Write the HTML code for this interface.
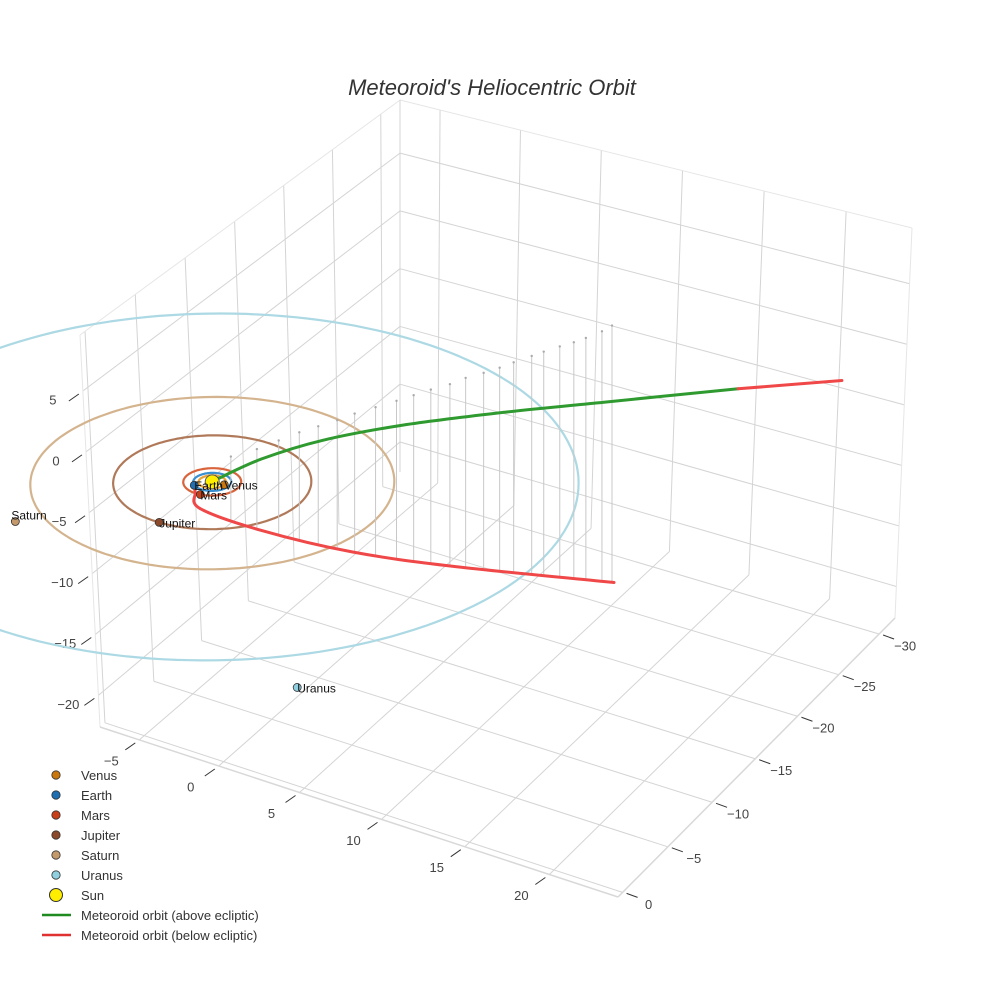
<!DOCTYPE html>
<html>
<head>
<meta charset="utf-8">
<style>
  html,body{margin:0;padding:0;background:#fff;}
  svg{display:block;font-family:"Liberation Sans",sans-serif;}
</style>
</head>
<body>
<svg id="chart" width="984" height="984" viewBox="0 0 984 984">
  <rect x="0" y="0" width="984" height="984" fill="#fff"/>
  <g id="grid"></g>
  <g id="axes"></g>
  <g id="orbits"></g>
  <g id="drops"></g>
  <g id="meteor"></g>
  <g id="planets"></g>
  <text x="492" y="95" text-anchor="middle" font-size="22" font-style="italic" fill="#333">Meteoroid's Heliocentric Orbit</text>
  <g id="legend"></g>
</svg>
<script>
// ---------- data ----------
const xTicks = [-5, 0, 5, 10, 15, 20];
const yTicks = [0, -5, -10, -15, -20, -25, -30];
const zTicks = [-20, -15, -10, -5, 0, 5];

const planetNames = ["Venus", "Earth", "Mars", "Jupiter", "Saturn", "Uranus"];
const planetX = [0.71, -0.62, 0.19, -0.06, -6.6, 15.2];
const planetY = [-0.05, 0.79, 1.50, 5.2, 8.9, 16.6];
const planetZ = [0, 0, 0, 0, 0, 0];
const orbitRadius = [0.72, 1.0, 1.52, 5.2, 9.55, 19.2];
const planetColors = ["#c8780f", "#1f6fb2", "#c8401a", "#8b4a2b", "#c49a6c", "#8fcfe0"];
const orbitColors = ["#e8a33a", "#3a8fd0", "#d9643c", "#b07a5a", "#d4b48e", "#acd9e4"];

const greenX = [0.04, 0.92, 2.61, 5.41, 9.26, 13.3, 18.7];
const greenY = [-0.28, -3.49, -6.88, -10.5, -14.4, -18.1, -23.0];
const greenZ = [0, 0, 0, 0, 0, 0, 0];

const redUpperX = [18.7, 23.0];
const redUpperY = [-23.0, -26.6];
const redUpperZ = [0, 0];

const redLowerX = [-0.62, -0.16, 0.97, 4.97, 10.3, 15.7, 23.6];
const redLowerY = [0.79, 1.44, 2.82, 3.26, 2.88, 1.55, -1.1];
const redLowerZ = [0, 0, 0, 0, 0, 0, 0];

const dropX = [3.0,4.7,6.0,7.2,8.3,9.4,10.4,11.5,12.6,13.5,14.4,15.4,16.2,17.1,17.9,18.6,19.5,20.1,20.9,21.6,22.2,23.0,23.5];
const dropZ = [5.0,6.3,7.4,8.4,9.2,10.0,10.8,11.5,12.2,12.8,13.4,14.0,14.6,15.1,15.6,16.1,16.7,17.1,17.6,18.0,18.4,19.0,19.5];

// ---------- projection ----------
const XMIN=-7.5, XMAX=24, YMIN=-32, YMAX=0.5, ZMIN=-22.6, ZMAX=9.6;
function sq2quad(p){
  const [x0,y0]=p[0],[x1,y1]=p[1],[x2,y2]=p[2],[x3,y3]=p[3];
  const dx1=x1-x2, dx2=x3-x2, dx3=x0-x1+x2-x3;
  const dy1=y1-y2, dy2=y3-y2, dy3=y0-y1+y2-y3;
  const det=dx1*dy2-dx2*dy1;
  const g=(dx3*dy2-dx2*dy3)/det, h=(dx1*dy3-dx3*dy1)/det;
  const a=x1-x0+g*x1, b=x3-x0+h*x3, c=x0;
  const d=y1-y0+g*y1, e=y3-y0+h*y3, f=y0;
  return (u,v)=>{const den=g*u+h*v+1;return [(a*u+b*v+c)/den,(d*u+e*v+f)/den];};
}
const Hb = sq2quad([[400,472],[895,618],[618,897],[100,727]]);
const Ht = sq2quad([[400,100],[912,228],[600,470],[80,335]]);
function proj(x,y,z){
  const u=(x-XMIN)/(XMAX-XMIN), v=(y-YMIN)/(YMAX-YMIN), w=(z-ZMIN)/(ZMAX-ZMIN);
  const b=Hb(u,v), t=Ht(u,v);
  return [b[0]+w*(t[0]-b[0]), b[1]+w*(t[1]-b[1])];
}
const NS="http://www.w3.org/2000/svg";
function mk(tag, attrs, parent){
  const el=document.createElementNS(NS,tag);
  for(const k in attrs) el.setAttribute(k, attrs[k]);
  parent.appendChild(el); return el;
}
function line3(p,q,stroke,sw,parent,name){
  const a=proj(...p), b=proj(...q);
  const el=mk('line',{x1:a[0],y1:a[1],x2:b[0],y2:b[1],stroke:stroke,'stroke-width':sw},parent);
  
  
  return el;
}
function path3(xs,ys,zs,stroke,sw,parent,name,smooth){
  const pts=xs.map((x,i)=>proj(x,ys[i],zs[i]));
  let d='M'+pts[0][0].toFixed(1)+' '+pts[0][1].toFixed(1);
  for(let i=0;i<pts.length-1;i++){
    if(smooth){
      const p0=pts[Math.max(0,i-1)],p1=pts[i],p2=pts[i+1],p3=pts[Math.min(pts.length-1,i+2)];
      const c1=[p1[0]+(p2[0]-p0[0])/6,p1[1]+(p2[1]-p0[1])/6];
      const c2=[p2[0]-(p3[0]-p1[0])/6,p2[1]-(p3[1]-p1[1])/6];
      d+='C'+c1[0].toFixed(1)+' '+c1[1].toFixed(1)+' '+c2[0].toFixed(1)+' '+c2[1].toFixed(1)+' '+p2[0].toFixed(1)+' '+p2[1].toFixed(1);
    } else d+='L'+pts[i+1][0].toFixed(1)+' '+pts[i+1][1].toFixed(1);
  }
  const el=mk('path',{d:d,fill:'none',stroke:stroke,'stroke-width':sw,'stroke-linejoin':'round','stroke-linecap':'round'},parent);
  
  
  return el;
}

// ---------- grid ----------
const grid=document.getElementById('grid');
const GC='#d4d4d4';
yTicks.forEach(y=>line3([XMIN,y,ZMIN],[XMIN,y,ZMAX],GC,1,grid,'left-wall-gridline'));
zTicks.forEach(z=>line3([XMIN,YMIN,z],[XMIN,YMAX,z],GC,1,grid,'left-wall-gridline'));
xTicks.forEach(x=>line3([x,YMIN,ZMIN],[x,YMIN,ZMAX],GC,1,grid,'back-wall-gridline'));
zTicks.forEach(z=>line3([XMIN,YMIN,z],[XMAX,YMIN,z],GC,1,grid,'back-wall-gridline'));
xTicks.forEach(x=>line3([x,YMIN,ZMIN],[x,YMAX,ZMIN],GC,1,grid,'floor-gridline'));
yTicks.forEach(y=>line3([XMIN,y,ZMIN],[XMAX,y,ZMIN],GC,1,grid,'floor-gridline'));
const EC='#e6e6e6';
line3([XMIN,YMIN,ZMAX],[XMIN,YMAX,ZMAX],EC,1,grid,'box-edge');
line3([XMIN,YMIN,ZMAX],[XMAX,YMIN,ZMAX],EC,1,grid,'box-edge');
line3([XMIN,YMIN,ZMIN],[XMIN,YMIN,ZMAX],GC,1,grid,'box-edge');
line3([XMAX,YMIN,ZMIN],[XMAX,YMIN,ZMAX],EC,1,grid,'box-edge');
line3([XMIN,YMAX,ZMIN],[XMIN,YMAX,ZMAX],EC,1,grid,'box-edge');
line3([XMIN,YMAX,ZMIN],[XMAX,YMAX,ZMIN],'#d8d8d8',1.5,grid,'box-edge');
line3([XMAX,YMIN,ZMIN],[XMAX,YMAX,ZMIN],'#d8d8d8',1.5,grid,'box-edge');

// ---------- axes ticks / labels ----------
const axes=document.getElementById('axes');
function tickLabel(x,y,txt,name){
  const t=mk('text',{x:x,y:y,'text-anchor':'middle','dominant-baseline':'middle','font-size':13,fill:'#444'},axes);
  t.textContent=txt;
  
  
}
function fmt(v){return v<0?'\u2212'+Math.abs(v):String(v);}
xTicks.forEach(x=>{
  const p=proj(x,YMAX,ZMIN);
  const l=mk('line',{x1:p[0]-4,y1:p[1]+3,x2:p[0]-14,y2:p[1]+10,stroke:'#333','stroke-width':1},axes);
  
  
  tickLabel(p[0]-28,p[1]+22,fmt(x),'x-tick-label');
});
yTicks.forEach(y=>{
  const p=proj(XMAX,y,ZMIN);
  const l=mk('line',{x1:p[0]+4,y1:p[1]+1,x2:p[0]+15,y2:p[1]+5,stroke:'#333','stroke-width':1},axes);
  
  
  tickLabel(p[0]+26,p[1]+13,fmt(y),'y-tick-label');
});
zTicks.forEach(z=>{
  const p=proj(XMIN,YMAX,z);
  const l=mk('line',{x1:p[0]-4,y1:p[1]+3,x2:p[0]-14,y2:p[1]+10,stroke:'#333','stroke-width':1},axes);
  
  
  tickLabel(p[0]-30,p[1]+10,fmt(z),'z-tick-label');
});

// ---------- orbits ----------
const orbits=document.getElementById('orbits');
for(let i=orbitRadius.length-1;i>=0;i--){
  const xs=[],ys=[],zs=[];
  for(let k=0;k<=180;k++){const a=k/180*2*Math.PI;xs.push(orbitRadius[i]*Math.cos(a));ys.push(orbitRadius[i]*Math.sin(a));zs.push(0);}
  path3(xs,ys,zs,orbitColors[i],2.2,orbits,planetNames[i].toLowerCase()+'-orbit',false);
}

// ---------- drop lines ----------
const drops=document.getElementById('drops');
function interpY(x){
  for(let i=0;i<redLowerX.length-1;i++){
    if(x>=redLowerX[i]&&x<=redLowerX[i+1]){const t=(x-redLowerX[i])/(redLowerX[i+1]-redLowerX[i]);return redLowerY[i]+t*(redLowerY[i+1]-redLowerY[i]);}
  }
  return redLowerY[redLowerY.length-1];
}
dropX.forEach((x,i)=>{
  const y=interpY(x);
  const b=proj(x,y,0), t=proj(x,y,dropZ[i]);
  const l=mk('line',{x1:b[0],y1:b[1],x2:b[0],y2:t[1],stroke:'#c8c8c8','stroke-width':1},drops);
  
  
  const c=mk('circle',{cx:b[0],cy:t[1],r:1.2,fill:'#aaa'},drops);
  
  
});

// ---------- meteoroid ----------
const meteor=document.getElementById('meteor');
path3(redLowerX,redLowerY,redLowerZ,'#f04848',3,meteor,'meteoroid-below-ecliptic',true);
path3(greenX,greenY,greenZ,'#2f9a2f',3,meteor,'meteoroid-above-ecliptic',true);
path3(redUpperX,redUpperY,redUpperZ,'#f04848',3,meteor,'meteoroid-below-ecliptic-far',true);

// ---------- planets ----------
const planets=document.getElementById('planets');
const sp=proj(0,0,0);
const sun=mk('circle',{cx:sp[0],cy:sp[1],r:7,fill:'#ffee00',stroke:'#555','stroke-width':1},planets);


planetNames.forEach((n,i)=>{
  const p=proj(planetX[i],planetY[i],planetZ[i]);
  const c=mk('circle',{cx:p[0],cy:p[1],r:4,fill:planetColors[i],stroke:'#333','stroke-width':0.8},planets);
  
  
  const t=mk('text',{x:p[0]+(n==='Saturn'?-4:0),y:p[1]+(n==='Saturn'?-2:5),'font-size':12,fill:'#111'},planets);
  t.textContent=n;
  
  
});

// ---------- legend ----------
const legend=document.getElementById('legend');
const legendNames=["Venus","Earth","Mars","Jupiter","Saturn","Uranus","Sun","Meteoroid orbit (above ecliptic)","Meteoroid orbit (below ecliptic)"];
legendNames.forEach((n,i)=>{
  const y=775+i*20;
  if(i<6){
    const c=mk('circle',{cx:56,cy:y,r:4.2,fill:planetColors[i],stroke:'#333','stroke-width':0.8},legend);
    
    
  } else if(i===6){
    const c=mk('circle',{cx:56,cy:y,r:6.5,fill:'#ffee00',stroke:'#333','stroke-width':1},legend);
    
    
  } else {
    const l=mk('line',{x1:42,y1:y,x2:71,y2:y,stroke:i===7?'#1f8a1f':'#e03030','stroke-width':2.5},legend);
    
    
  }
  const t=mk('text',{x:81,y:y+5,'font-size':13,fill:'#333'},legend);
  t.textContent=n;
  
  
});
</script>
</body>
</html>
